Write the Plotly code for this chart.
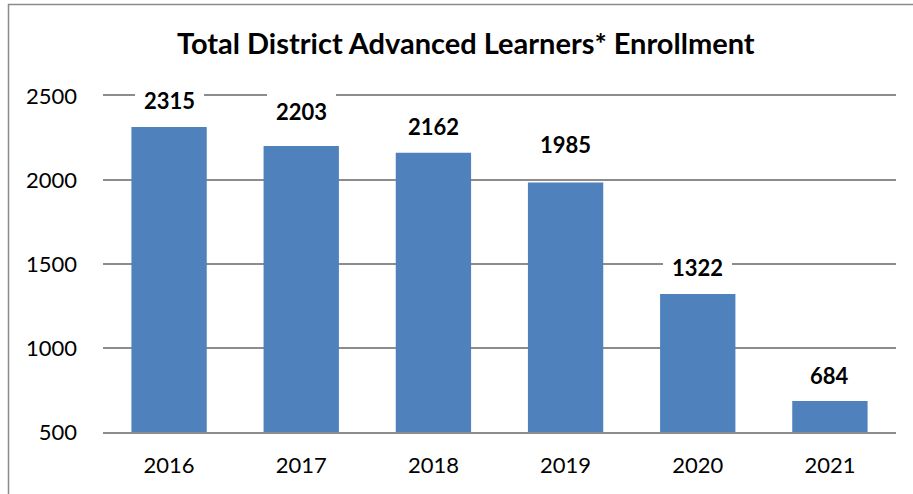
import plotly.graph_objects as go

# ---- data ----
years = ["2016", "2017", "2018", "2019", "2020", "2021"]
enrollment = [2315, 2203, 2162, 1985, 1322, 684]
y_tick_values = [500, 1000, 1500, 2000, 2500]
y_tick_labels = ["500", "1000", "1500", "2000", "2500"]
title_text = "Total District Advanced Learners* Enrollment"

# ---- style ----
W, H = 913, 494
ML, MR, MT, MB = 103, 17, 96, 62
label_shift = [27, 34, 26, 38, 26, 26]   # px above bar top (as in the original)
FONT = "Lato"
BAR = "#4F81BD"
GRID = "#8C8C8C"

pw = W - ML - MR
ph = H - MT - MB
def px_x(p):
    return (p - ML) / pw
def px_y(p):
    return (H - MB - p) / ph

fig = go.Figure()
fig.add_trace(go.Bar(
    x=list(range(len(years))), y=enrollment, width=0.57,
    marker=dict(color=BAR, line=dict(width=0)),
    hovertext=years, hoverinfo="text+y",
))

for i, v in enumerate(enrollment):
    fig.add_annotation(
        x=i, y=v, xref="x", yref="y", text=f"<b>{v}</b>",
        showarrow=False, yanchor="middle", yshift=label_shift[i],
        font=dict(family=FONT, size=22, color="black"),
        bgcolor="white", borderpad=9, borderwidth=0,
    )

fig.add_annotation(
    x=px_x(465.5), y=px_y(42.5), xref="paper", yref="paper",
    text=f"<b>{title_text}</b>", showarrow=False,
    xanchor="center", yanchor="middle",
    font=dict(family=FONT, size=29, color="black"),
)

# outer frame (cropped at right/bottom)
fig.add_shape(type="rect", xref="paper", yref="paper",
              x0=px_x(8.5), x1=px_x(930), y0=px_y(510), y1=px_y(4.5),
              line=dict(color="#8A8A8A", width=1.5), fillcolor="rgba(0,0,0,0)",
              layer="below")

fig.update_layout(
    width=W, height=H,
    margin=dict(l=ML, r=MR, t=MT, b=MB, autoexpand=False),
    paper_bgcolor="white", plot_bgcolor="white",
    showlegend=False,
    font=dict(family=FONT, size=22, color="black"),
)
fig.update_xaxes(
    range=[-0.5, len(years) - 0.5], tickvals=list(range(len(years))), ticktext=years,
    showgrid=False, showline=True, mirror=True, linecolor=GRID, linewidth=1.5,
    ticks="", ticklabelstandoff=13, automargin=False,
    tickfont=dict(family=FONT, size=22, color="black"),
)
fig.update_yaxes(
    range=[500, 2500], tickvals=y_tick_values, ticktext=y_tick_labels,
    showgrid=True, gridcolor=GRID, gridwidth=1.5, zeroline=False, showline=False,
    ticks="", ticklabelstandoff=25, automargin=False,
    tickfont=dict(family=FONT, size=22, color="black"),
)

fig.write_html(
    "out.html",
    config={"displayModeBar": False},
    post_script="document.body.style.margin='0';document.body.style.overflow='hidden';",
)
